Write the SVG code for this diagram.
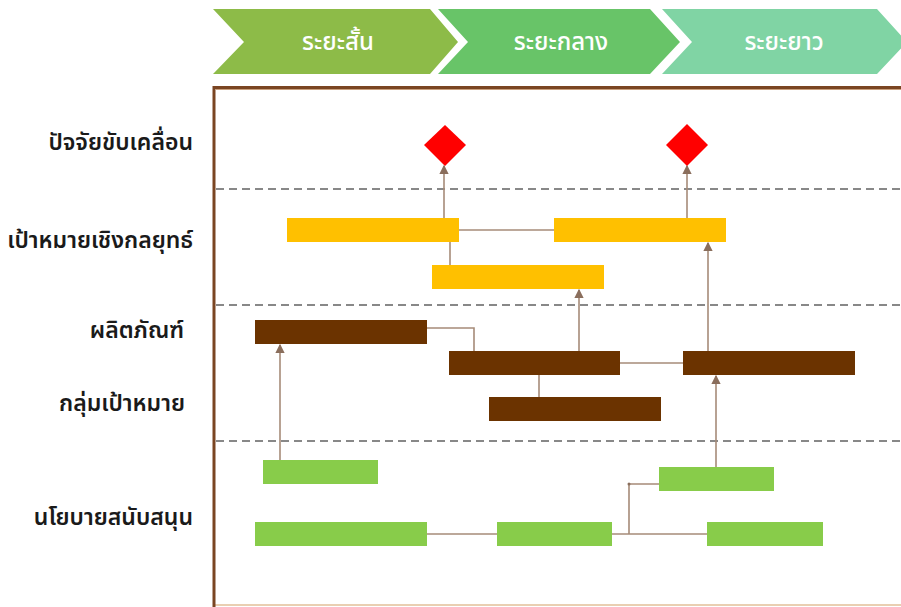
<svg xmlns="http://www.w3.org/2000/svg" width="901" height="607" viewBox="0 0 901 607">
  <style>
    .lbl { font-family: "Noto Sans Thai", "Noto Sans", "DejaVu Sans", "Liberation Sans", sans-serif; font-size: 23px; font-weight: 600; fill: #1a1a1a; text-anchor: end; }
    .hdr { font-family: "Noto Sans Thai", "Noto Sans", "DejaVu Sans", "Liberation Sans", sans-serif; font-size: 24px; font-weight: 500; fill: #ffffff; text-anchor: middle; }
    .dash { stroke: #888888; stroke-width: 2.2; stroke-dasharray: 8 5; fill: none; }
    .yel { fill: #FFC000; }
    .brn { fill: #6B3300; }
    .grn { fill: #88CC4A; }
    .dia { fill: #FF0000; }
    .con { stroke: #A68B78; stroke-width: 1.6; fill: none; }
  </style>
  <defs>
    <marker id="arr" viewBox="0 0 8 8" refX="7" refY="4" markerWidth="6" markerHeight="6" orient="auto">
      <path d="M0,0 L8,4 L0,8 z" fill="#8a6e5c"/>
    </marker>
  </defs>
  <rect x="0" y="0" width="901" height="607" fill="#ffffff"/>

  <!-- header chevrons -->
  <g id="phase-short">
    <polygon points="213,9 430,9 458,42 430,74 213,74 244,42" fill="#8DBB48"/>
    <text class="hdr" x="338" y="50">ระยะสั้น</text>
  </g>
  <g id="phase-mid">
    <polygon points="438,9 650,9 680,42 650,74 438,74 468,42" fill="#68C468"/>
    <text class="hdr" x="561" y="50">ระยะกลาง</text>
  </g>
  <g id="phase-long">
    <polygon points="662,9 877,9 907,42 877,74 662,74 692,42" fill="#80D4A4"/>
    <text class="hdr" x="784" y="50">ระยะยาว</text>
  </g>

  <!-- frame -->
  <g id="frame">
    <line x1="214" y1="605" x2="901" y2="605" stroke="#E9CFB2" stroke-width="2"/>
    <polyline points="214,607 214,87.5 901,87.5" fill="none" stroke="#7A4522" stroke-width="3"/>
    <line x1="216" y1="89.5" x2="901" y2="89.5" stroke="#C9A07E" stroke-width="1"/>
    <line class="dash" x1="216" y1="189" x2="901" y2="189"/>
    <line class="dash" x1="216" y1="305" x2="901" y2="305"/>
    <line class="dash" x1="216" y1="441" x2="901" y2="441"/>
  </g>

  <!-- row labels -->
  <g id="labels">
    <text class="lbl" x="193" y="150">ปัจจัยขับเคลื่อน</text>
    <text class="lbl" x="193" y="248">เป้าหมายเชิงกลยุทธ์</text>
    <text class="lbl" x="184" y="338">ผลิตภัณฑ์</text>
    <text class="lbl" x="185" y="411">กลุ่มเป้าหมาย</text>
    <text class="lbl" x="193" y="525">นโยบายสนับสนุน</text>
  </g>

  <!-- connectors -->
  <g id="connectors">
    <line class="con" x1="444" y1="218" x2="444" y2="166" marker-end="url(#arr)"/>
    <line class="con" x1="687" y1="218" x2="687" y2="166" marker-end="url(#arr)"/>
    <line class="con" x1="459" y1="230" x2="554" y2="230"/>
    <line class="con" x1="450" y1="242" x2="450" y2="265"/>
    <line class="con" x1="579" y1="351" x2="579" y2="290" marker-end="url(#arr)"/>
    <line class="con" x1="708" y1="351" x2="708" y2="243" marker-end="url(#arr)"/>
    <polyline class="con" points="427,328 474,328 474,351"/>
    <line class="con" x1="620" y1="363" x2="683" y2="363"/>
    <line class="con" x1="539" y1="375" x2="539" y2="397"/>
    <line class="con" x1="280" y1="460" x2="280" y2="345" marker-end="url(#arr)"/>
    <line class="con" x1="716" y1="467" x2="716" y2="376" marker-end="url(#arr)"/>
    <line class="con" x1="427" y1="534" x2="497" y2="534"/>
    <line class="con" x1="612" y1="534" x2="707" y2="534"/>
    <polyline class="con" points="629,534 629,484 659,484"/>
    <circle cx="629" cy="484" r="1.5" fill="#8a6e5c"/>
  </g>

  <!-- drivers -->
  <g id="driver-1"><polygon class="dia" points="445,125 466,145 445,166 424,145"/></g>
  <g id="driver-2"><polygon class="dia" points="687,124 708,145 687,166 666,145"/></g>

  <!-- strategic goals -->
  <g id="goal-1"><rect class="yel" x="287" y="218" width="172" height="24"/></g>
  <g id="goal-2"><rect class="yel" x="554" y="218" width="172" height="24"/></g>
  <g id="goal-3"><rect class="yel" x="432" y="265" width="172" height="24"/></g>

  <!-- products / target groups -->
  <g id="product-1"><rect class="brn" x="255" y="320" width="172" height="24"/></g>
  <g id="product-2"><rect class="brn" x="449" y="351" width="171" height="24"/></g>
  <g id="product-3"><rect class="brn" x="683" y="351" width="172" height="24"/></g>
  <g id="target-1"><rect class="brn" x="489" y="397" width="172" height="24"/></g>

  <!-- policies -->
  <g id="policy-1"><rect class="grn" x="263" y="460" width="115" height="24"/></g>
  <g id="policy-2"><rect class="grn" x="659" y="467" width="115" height="24"/></g>
  <g id="policy-3"><rect class="grn" x="255" y="522" width="172" height="24"/></g>
  <g id="policy-4"><rect class="grn" x="497" y="522" width="115" height="24"/></g>
  <g id="policy-5"><rect class="grn" x="707" y="522" width="116" height="24"/></g>
</svg>
